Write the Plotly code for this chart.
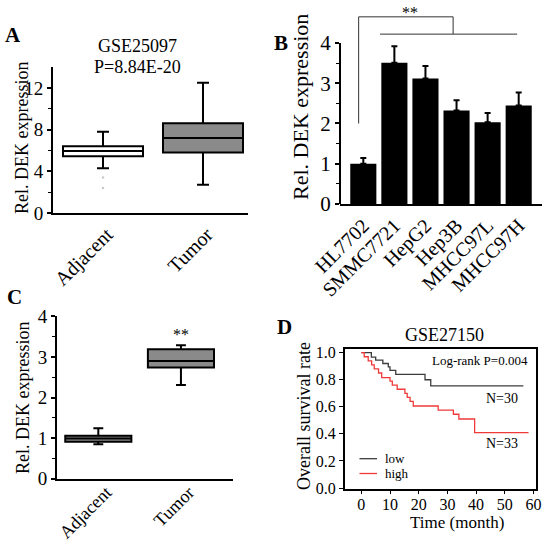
import plotly.graph_objects as go

W = H = 544
FONT = "Liberation Serif"

# ---------------- Data ----------------
# Panel A (GSE25097) box statistics
a_groups = ["Adjacent", "Tumor"]
a_lower = [4.3, 2.7]
a_q1 = [5.45, 5.8]
a_median = [5.95, 7.2]
a_q3 = [6.4, 8.6]
a_upper = [7.8, 12.5]
a_outliers_adjacent = [3.4, 2.4]

# Panel B cell lines
b_lines = ["HL7702", "SMMC7721", "HepG2", "Hep3B", "MHCC97L", "MHCC97H"]
b_mean = [1.0, 3.51, 3.12, 2.32, 2.03, 2.45]
b_err = [0.14, 0.41, 0.31, 0.26, 0.23, 0.32]

# Panel C box statistics
c_groups = ["Adjacent", "Tumor"]
c_lower = [0.85, 2.31]
c_q1 = [0.91, 2.74]
c_median = [0.99, 2.9]
c_q3 = [1.06, 3.19]
c_upper = [1.24, 3.29]

# Panel D Kaplan-Meier (GSE27150)
d_low_t = [0, 3.5, 5.0, 7.5, 9.4, 10.0, 12.0, 22.2, 24.2, 56.5]
d_low_s = [1.0, 0.967, 0.945, 0.92, 0.895, 0.87, 0.84, 0.80, 0.755, 0.755]
d_high_t = [0, 1.0, 2.4, 3.6, 4.5, 6.0, 7.1, 10.0, 10.8, 12.5, 15.2, 16.0, 17.0, 18.1,
            26.8, 32.1, 34.0, 39.5, 58.3]
d_high_s = [1.0, 0.97, 0.94, 0.91, 0.88, 0.85, 0.815, 0.79, 0.76, 0.73, 0.70, 0.67, 0.64,
            0.606, 0.576, 0.545, 0.51, 0.41, 0.41]


def px(x):
    return x / W


def py(y):
    return 1 - y / H


fig = go.Figure()

# ---------------- Panel A ----------------
a_fill = ["white", "#8a8a8a"]
for i, g in enumerate(a_groups):
    fig.add_trace(go.Box(
        x=[g], q1=[a_q1[i]], median=[a_median[i]], q3=[a_q3[i]],
        lowerfence=[a_lower[i]], upperfence=[a_upper[i]],
        fillcolor=a_fill[i], line=dict(color="black", width=2),
        whiskerwidth=0.15, width=0.8, boxpoints=False,
        xaxis="x", yaxis="y", showlegend=False, hoverinfo="skip"))
fig.add_trace(go.Scatter(
    x=[a_groups[0]] * len(a_outliers_adjacent), y=a_outliers_adjacent, mode="markers",
    marker=dict(color="#c8c8c8", size=2.5), xaxis="x", yaxis="y", showlegend=False,
    hoverinfo="skip"))

# ---------------- Panel B ----------------
fig.add_trace(go.Bar(
    x=b_lines, y=b_mean, marker=dict(color="black", line=dict(width=0)),
    error_y=dict(type="data", array=b_err, arrayminus=[0] * len(b_err), symmetric=False,
                 color="black", thickness=2, width=3),
    xaxis="x2", yaxis="y2", showlegend=False, hoverinfo="skip"))

# ---------------- Panel C ----------------
c_fill = ["#8a8a8a", "#8a8a8a"]
for i, g in enumerate(c_groups):
    fig.add_trace(go.Box(
        x=[g], q1=[c_q1[i]], median=[c_median[i]], q3=[c_q3[i]],
        lowerfence=[c_lower[i]], upperfence=[c_upper[i]],
        fillcolor=c_fill[i], line=dict(color="black", width=2),
        whiskerwidth=0.15, width=0.8, boxpoints=False,
        xaxis="x3", yaxis="y3", showlegend=False, hoverinfo="skip"))

# ---------------- Panel D ----------------
fig.add_trace(go.Scatter(x=d_low_t, y=d_low_s, mode="lines", line=dict(color="#3c3c3c", width=1.3, shape="hv"),
                         xaxis="x4", yaxis="y4", showlegend=False, hoverinfo="skip"))
fig.add_trace(go.Scatter(x=d_high_t, y=d_high_s, mode="lines", line=dict(color="#f03a3a", width=1.3, shape="hv"),
                         xaxis="x4", yaxis="y4", showlegend=False, hoverinfo="skip"))

# ---------------- Layout ----------------
axis_common = dict(showgrid=False, zeroline=False, linecolor="black", color="black",
                   automargin=False, tickcolor="black")


def tf(size):
    return dict(size=size, family=FONT, color="black")


# pixel boxes for plots
A = dict(l=53, r=248, t=67, b=213)
B = dict(l=340, r=542, t=12.8, b=204)
C = dict(l=57, r=233, t=316.3, b=478.7)
D = dict(l=344.7, r=536, t=349.3, b=488.7)

fig.update_layout(
    template="none",
    width=W, height=H, autosize=False,
    margin=dict(l=0, r=0, t=0, b=0, pad=0),
    paper_bgcolor="white", plot_bgcolor="rgba(0,0,0,0)",
    font=dict(family=FONT, color="black"),
    bargap=0.16, boxmode="overlay", showlegend=False, hovermode=False,
    xaxis=dict(domain=[px(A["l"]), px(A["r"])], anchor="y", range=[-0.5, 1.45],
               type="category", categoryorder="array", categoryarray=a_groups,
               showline=True, linewidth=2, ticks="", tickangle=-45, ticklabelshift=4,
               tickfont=tf(20), **axis_common),
    yaxis=dict(domain=[py(A["b"]), py(A["t"])], anchor="x", range=[0, 14],
               tickvals=[0, 4, 8, 12], ticks="outside", ticklen=4, tickwidth=1.5,
               minor=dict(tickvals=[2, 6, 10], ticks="outside", ticklen=3, tickwidth=1),
               showline=True, linewidth=2, tickfont=tf(19), **axis_common),
    xaxis2=dict(domain=[px(B["l"]), px(B["r"])], anchor="y2", range=[-0.75, 5.75],
                type="category", showline=True, linewidth=2, ticks="", tickangle=-45,
                tickfont=tf(20), **axis_common),
    yaxis2=dict(domain=[py(B["b"]), py(B["t"])], anchor="x2", range=[0, 4.75],
                tickvals=[0, 1, 2, 3, 4], ticks="outside", ticklen=4, tickwidth=1.5,
                minor=dict(tickvals=[0.5, 1.5, 2.5, 3.5], ticks="outside", ticklen=3, tickwidth=1),
                showline=False, tickfont=tf(21), **axis_common),
    xaxis3=dict(domain=[px(C["l"]), px(C["r"])], anchor="y3", range=[-0.5, 1.63],
                type="category", categoryorder="array", categoryarray=c_groups,
                showline=True, linewidth=2, ticks="", tickangle=-45, ticklabelshift=8,
                ticklabelstandoff=-6, tickfont=tf(18), **axis_common),
    yaxis3=dict(domain=[py(C["b"]), py(C["t"])], anchor="x3", range=[0, 4],
                tickvals=[0, 1, 2, 3, 4], ticks="outside", ticklen=4, tickwidth=1.5,
                minor=dict(tickvals=[0.5, 1.5, 2.5, 3.5], ticks="outside", ticklen=3, tickwidth=1),
                showline=True, linewidth=2, tickfont=tf(19), **axis_common),
    xaxis4=dict(domain=[px(D["l"]), px(D["r"])], anchor="y4", range=[-5.8, 60.9],
                tickvals=[0, 10, 20, 30, 40, 50, 60], ticks="outside", ticklen=4,
                showline=True, mirror=True, linewidth=1.5, ticklabelstandoff=-4,
                tickfont=tf(16), **axis_common),
    yaxis4=dict(domain=[py(D["b"]), py(D["t"])], anchor="x4", range=[-0.005, 1.025],
                tickvals=[0, 0.2, 0.4, 0.6, 0.8, 1.0],
                ticktext=["0.0", "0.2", "0.4", "0.6", "0.8", "1.0"],
                ticks="outside", ticklen=4, showline=True, mirror=True, linewidth=1.5,
                tickfont=tf(16), **axis_common),
)

shapes = []
# Panel B y-axis line (0..4 only)
shapes.append(dict(type="line", xref="paper", yref="paper",
                   x0=px(B["l"]), x1=px(B["l"]), y0=py(B["b"]), y1=py(43),
                   line=dict(color="black", width=2)))
# significance bracket in B
br = dict(color="#333333", width=1)
shapes += [
    dict(type="line", xref="x2", yref="y2", x0=-0.15, x1=-0.15, y0=2.0, y1=4.65, line=br),
    dict(type="line", xref="x2", yref="y2", x0=-0.15, x1=2.89, y0=4.65, y1=4.65, line=br),
    dict(type="line", xref="x2", yref="y2", x0=2.89, x1=2.89, y0=4.65, y1=4.22, line=br),
    dict(type="line", xref="x2", yref="y2", x0=0.54, x1=4.95, y0=4.22, y1=4.22, line=br),
]
# Panel D legend samples
shapes += [
    dict(type="line", xref="paper", yref="paper", x0=px(359.5), x1=px(377), y0=py(458.7), y1=py(458.7),
         line=dict(color="#3c3c3c", width=1.3)),
    dict(type="line", xref="paper", yref="paper", x0=px(359.5), x1=px(377), y0=py(473.5), y1=py(473.5),
         line=dict(color="#f03a3a", width=1.3)),
]
fig.update_layout(shapes=shapes)


def ann(text, x, y, size, bold=False, angle=0, xanchor="center"):
    t = f"<b>{text}</b>" if bold else text
    return dict(text=t, x=px(x), y=py(y), xref="paper", yref="paper", showarrow=False,
                xanchor=xanchor, yanchor="middle", textangle=angle,
                font=dict(size=size, family=FONT, color="black"))


annotations = [
    ann("A", 13, 35, 21, bold=True),
    ann("B", 281, 43, 21, bold=True),
    ann("C", 14, 297, 21, bold=True),
    ann("D", 284, 327, 21, bold=True),
    ann("GSE25097", 137, 46, 18),
    ann("P=8.84E-20", 137, 67, 18),
    ann("Rel. DEK expression", 22, 138, 18, angle=-90),
    ann("Rel. DEK expression", 301, 107, 22, angle=-90),
    ann("**", 410, 12, 16),
    ann("Rel. DEK expression", 23, 398, 18, angle=-90),
    ann("**", 181, 334, 16),
    ann("GSE27150", 444, 335, 18),
    ann("Log-rank P=0.004", 530, 360, 13, xanchor="right"),
    ann("N=30", 502, 398, 14),
    ann("N=33", 502, 443, 14),
    ann("low", 383, 458, 13, xanchor="left"),
    ann("high", 383, 473, 13, xanchor="left"),
    ann("Overall survival rate", 304, 416, 18, angle=-90),
    ann("Time (month)", 457, 522, 17),
]
fig.update_layout(annotations=annotations)

fig.write_html("out.html", config={"displayModeBar": False},
               post_script="document.body.style.margin='0px';document.body.style.overflow='hidden';")
